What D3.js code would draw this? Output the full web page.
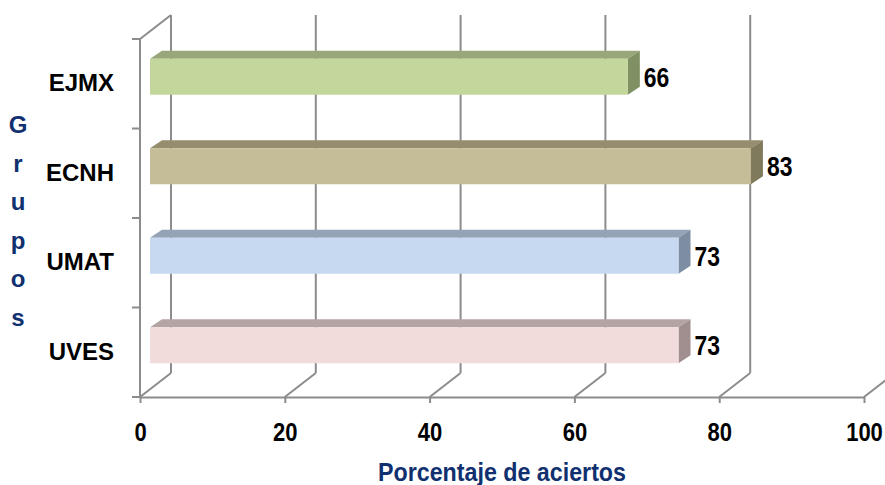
<!DOCTYPE html>
<html>
<head>
<meta charset="utf-8">
<script src="https://cdn.jsdelivr.net/npm/d3@7"></script>
<style>
  body { margin: 0; background: #fff; }
  text { font-family: "Liberation Sans", Arial, sans-serif; font-weight: bold; }
</style>
</head>
<body>
<script>
/* Data */
var categories = ['EJMX', 'ECNH', 'UMAT', 'UVES'];
var values = [66, 83, 73, 73];
var tickValues = [0, 20, 40, 60, 80, 100];
var yTitle = 'Grupos';
var xTitle = 'Porcentaje de aciertos';

/* Face colours per bar: front, top, side */
var palette = [
    ['#c3d69b', '#98a679', '#7f9162'],
    ['#c4bd97', '#958d6e', '#7f7a5c'],
    ['#c6d9f0', '#95a3b6', '#7e8ea2'],
    ['#f2dcdb', '#b4a4a3', '#a08f8e']
];

var W = 885, H = 485;
var depth = {dx: 31, dy: -24};      // front plane -> back wall
var barFront = {dx: 10, dy: -7};    // front plane -> bar front face
var barDepth = {dx: 12, dy: -8};    // bar front face -> bar back face
var barH = 36;
var gridColor = '#8c8c8c';

var svg = d3.select('body')
    .append('svg')
    .attr('width', W)
    .attr('height', H);

var x = d3.scaleLinear().domain([0, 100]).range([140, 864]);
var y = d3.scaleBand().domain(categories).range([39, 397]);
var floorY = y.range()[1];

/* Back wall gridlines and floor diagonals */
var grid = svg.append('g')
    .attr('stroke', gridColor)
    .attr('stroke-width', 2)
    .attr('fill', 'none');

tickValues.forEach(function (t) {
    var bx = x(t) + depth.dx;
    grid.append('line')
        .attr('x1', bx).attr('y1', y.range()[0] + depth.dy)
        .attr('x2', bx).attr('y2', floorY + depth.dy);
    grid.append('line')
        .attr('x1', x(t)).attr('y1', floorY)
        .attr('x2', bx).attr('y2', floorY + depth.dy);
});

/* Left wall */
grid.append('line')
    .attr('x1', x(0)).attr('y1', y.range()[0])
    .attr('x2', x(0)).attr('y2', floorY);
grid.append('line')
    .attr('x1', x(0)).attr('y1', y.range()[0])
    .attr('x2', x(0) + depth.dx).attr('y2', y.range()[0] + depth.dy);

/* Category boundary ticks */
var bounds = categories.map(function (c) { return y(c); }).concat([floorY]);
grid.selectAll('line.ctick')
    .data(bounds)
    .enter()
    .append('line')
    .attr('class', 'ctick')
    .attr('x1', x(0) - 8).attr('x2', x(0))
    .attr('y1', function (d) { return d; })
    .attr('y2', function (d) { return d; });

/* Bottom axis */
var xAxis = svg.append('g')
    .attr('transform', 'translate(0,' + floorY + ')')
    .call(d3.axisBottom(x)
          .tickValues(tickValues)
          .tickSize(6)
          .tickSizeOuter(0)
          .tickPadding(20)
          .tickFormat(d3.format('d')));
xAxis.select('.domain').attr('stroke', gridColor).attr('stroke-width', 2);
xAxis.selectAll('.tick line').attr('stroke', gridColor).attr('stroke-width', 2);
xAxis.selectAll('.tick text')
    .attr('fill', '#000')
    .attr('transform', 'scale(0.88,1)')
    .style('font-size', '25px');

/* Left axis: category labels */
var yAxis = svg.append('g')
    .attr('transform', 'translate(' + x(0) + ',0)')
    .call(d3.axisLeft(y).tickSize(0).tickPadding(26));
yAxis.select('.domain').remove();
yAxis.selectAll('.tick text')
    .attr('fill', '#000')
    .style('font-size', '24px');

/* Bars: top, side, front faces */
var bars = svg.selectAll('g.bar')
    .data(values)
    .enter()
    .append('g')
    .attr('class', 'bar');

function frontTop(i) {
    return y(categories[i]) + y.bandwidth() / 2 + barFront.dy - barH / 2;
}

bars.append('polygon')
    .attr('fill', function (d, i) { return palette[i][1]; })
    .attr('points', function (d, i) {
        var x0 = x(0) + barFront.dx, x1 = x(d) + barFront.dx, t = frontTop(i);
        return [[x0, t], [x0 + barDepth.dx, t + barDepth.dy],
                [x1 + barDepth.dx, t + barDepth.dy], [x1, t]].join(' ');
    });

bars.append('polygon')
    .attr('fill', function (d, i) { return palette[i][2]; })
    .attr('points', function (d, i) {
        var x1 = x(d) + barFront.dx, t = frontTop(i);
        return [[x1, t], [x1 + barDepth.dx, t + barDepth.dy],
                [x1 + barDepth.dx, t + barH + barDepth.dy], [x1, t + barH]].join(' ');
    });

bars.append('rect')
    .attr('fill', function (d, i) { return palette[i][0]; })
    .attr('x', x(0) + barFront.dx)
    .attr('y', function (d, i) { return frontTop(i); })
    .attr('width', function (d) { return x(d) - x(0); })
    .attr('height', barH);

/* Value labels (condensed look) */
bars.append('text')
    .attr('transform', function (d, i) {
        return 'translate(' + (x(d) + barFront.dx + barDepth.dx + 4) + ',' +
            (frontTop(i) + barH / 2) + ') scale(0.82,1)';
    })
    .attr('dy', '0.36em')
    .style('font-size', '28px')
    .text(function (d) { return d; });

/* Axis titles */
svg.append('text')
    .attr('transform', 'translate(502,481) scale(0.93,1)')
    .attr('text-anchor', 'middle')
    .attr('fill', '#10306f')
    .style('font-size', '25px')
    .text(xTitle);

svg.selectAll('text.ytitle')
    .data(yTitle.split(''))
    .enter()
    .append('text')
    .attr('class', 'ytitle')
    .attr('x', 18)
    .attr('y', function (d, i) { return 133 + i * 38.5; })
    .attr('text-anchor', 'middle')
    .attr('fill', '#10306f')
    .style('font-size', '24px')
    .text(function (d) { return d; });
</script>
</body>
</html>
